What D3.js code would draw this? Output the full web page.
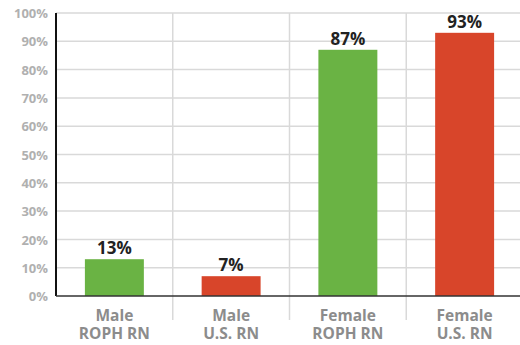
<!DOCTYPE html>
<html><head><meta charset="utf-8">
<script src="https://cdn.jsdelivr.net/npm/d3@7"></script>
<style>body{margin:0;background:#fff;}svg{display:block;font-family:"Open Sans",sans-serif;}</style>
</head><body>
<svg id="c" width="520" height="345"></svg>
<script>
const categories = [["Male","ROPH RN"],["Male","U.S. RN"],["Female","ROPH RN"],["Female","U.S. RN"]];
const values = [13, 7, 87, 93];
const colors = ["#6ab344", "#d8452a", "#6ab344", "#d8452a"];
const yTicks = [0,10,20,30,40,50,60,70,80,90,100];

(function(){
const svg = d3.select("#c");
const mL = 56, mR = 523, mT = 13, mB = 296;
const x = d3.scaleBand().domain(d3.range(categories.length)).range([mL, mR]).paddingInner(0).paddingOuter(0);
const y = d3.scaleLinear().domain([0,100]).range([mB, mT]);
const bw = x.bandwidth()*0.505;

// horizontal gridlines
svg.append("g").selectAll("line").data(yTicks.filter(d=>d>0)).join("line")
  .attr("x1", mL).attr("x2", 520).attr("y1", d=>y(d)).attr("y2", d=>y(d))
  .attr("stroke", "#d9d9d9").attr("stroke-width", 1.5);
// vertical gridlines
svg.append("g").selectAll("line").data(d3.range(1, categories.length)).join("line")
  .attr("x1", d=>x(d)).attr("x2", d=>x(d)).attr("y1", mT).attr("y2", 320)
  .attr("stroke", "#d9d9d9").attr("stroke-width", 1.5);

// bars
svg.append("g").selectAll("rect").data(values).join("rect")
  .attr("x", (d,i)=>x(i)+x.bandwidth()/2-bw/2).attr("width", bw)
  .attr("y", d=>y(d)).attr("height", d=>mB-y(d))
  .attr("fill", (d,i)=>colors[i]);

// value labels
svg.append("g").selectAll("text").data(values).join("text")
  .attr("x", (d,i)=>x(i)+x.bandwidth()/2).attr("y", d=>y(d)-5)
  .attr("text-anchor","middle").attr("font-size", 17).attr("font-weight","bold")
  .attr("fill","#222").text(d=>d+"%");

// y axis labels
const yAxis = d3.axisLeft(y).tickValues(yTicks).tickSize(0).tickPadding(8).tickFormat(d=>d+"%");
const ga = svg.append("g").attr("transform",`translate(${mL},0)`).call(yAxis);
ga.select(".domain").remove();
ga.selectAll("text").attr("font-size",13).attr("font-weight","bold").attr("fill","#b0b0b0")
  .attr("font-family","'Open Sans',sans-serif").attr("dy","0.36em");

// axis lines
svg.append("line").attr("x1",mL).attr("x2",mL).attr("y1",mT).attr("y2",mB)
  .attr("stroke","#111").attr("stroke-width",2);
svg.append("line").attr("x1",mL).attr("x2",520).attr("y1",mB).attr("y2",mB)
  .attr("stroke","#333").attr("stroke-width",1.5);

// x labels
const xl = svg.append("g").selectAll("text").data(categories).join("text")
  .attr("text-anchor","middle").attr("font-size",15.5).attr("font-weight","bold").attr("fill","#8c8c8c");
xl.append("tspan").attr("x",(d,i)=>x(i)+x.bandwidth()/2).attr("y",321).text(d=>d[0]);
xl.append("tspan").attr("x",(d,i)=>x(i)+x.bandwidth()/2).attr("y",339).text(d=>d[1]);
})();
</script>
</body></html>
